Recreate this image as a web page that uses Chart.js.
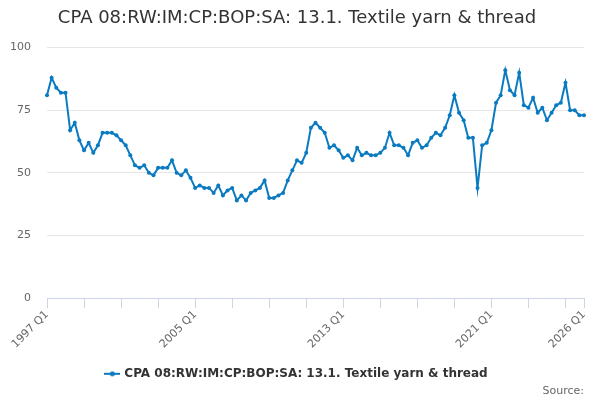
<!DOCTYPE html>
<html>
<head>
<meta charset="utf-8">
<title>Textile yarn & thread</title>
<script src="https://cdn.jsdelivr.net/npm/chart.js@4/dist/chart.umd.min.js"></script>
<style>
  html, body { margin: 0; padding: 0; background: #fff; }
  #wrap { position: relative; width: 600px; height: 400px; }
</style>
</head>
<body>
<div id="wrap"><canvas id="TextileChart" width="600" height="400"></canvas></div>
<script>
const startYear = 1997;
const quarterCount = 117; // 1997 Q1 .. 2026 Q1

const seriesName = "CPA 08:RW:IM:CP:BOP:SA: 13.1. Textile yarn & thread";

const textileValues = [
  81, 88, 84, 82, 82, 67, 70, 63, 59, 62, 58, 61, 66, 66, 66, 65, 63, 61, 57, 53,
  52, 53, 50, 49, 52, 52, 52, 55, 50, 49, 51, 48, 44, 45, 44, 44, 42, 45, 41, 43,
  44, 39, 41, 39, 42, 43, 44, 47, 40, 40, 41, 42, 47, 51, 55, 54, 58, 68, 70, 68,
  66, 60, 61, 59, 56, 57, 55, 60, 57, 58, 57, 57, 58, 60, 66, 61, 61, 60, 57, 62,
  63, 60, 61, 64, 66, 65, 68, 73, 81, 74, 71, 64, 64, 44, 61, 62, 67, 78, 81, 91,
  83, 81, 90, 77, 76, 80, 74, 76, 71, 74, 77, 78, 86, 75, 75, 73, 73
];

const yTicks = [0, 25, 50, 75, 100];
const labelledTicks = ["1997 Q1", "2005 Q1", "2013 Q1", "2021 Q1", "2026 Q1"];

const quarterLabels = [];
for (let i = 0; i < quarterCount; i++) {
  quarterLabels.push(`${startYear + Math.floor(i / 4)} Q${(i % 4) + 1}`);
}

const lineColor = "#0b7bc1";

// legend symbol: short line with a dot in the middle
function makeLegendSymbol() {
  const c = document.createElement("canvas");
  c.width = 16;
  c.height = 8;
  const g = c.getContext("2d");
  g.strokeStyle = lineColor;
  g.lineWidth = 2;
  g.beginPath();
  g.moveTo(0, 4);
  g.lineTo(16, 4);
  g.stroke();
  g.fillStyle = lineColor;
  g.beginPath();
  g.arc(8, 4, 2.5, 0, Math.PI * 2);
  g.fill();
  return c;
}

function isMajorTick(i) {
  return i % 8 === 0 || i === quarterCount - 1;
}

function initTextileChart() {
  const ctxElement = document.getElementById("TextileChart");
  if (!ctxElement) return console.error("TextileChart canvas not found");

  new Chart(ctxElement.getContext("2d"), {
    type: "line",
    data: {
      labels: quarterLabels,
      datasets: [{
        label: seriesName,
        data: textileValues,
        borderColor: lineColor,
        backgroundColor: lineColor,
        borderWidth: 2,
        pointRadius: 2,
        pointBorderWidth: 0,
        pointBackgroundColor: lineColor,
        tension: 0,
        fill: false
      }]
    },
    options: {
      responsive: false,
      animation: false,
      layout: { padding: { left: 10, right: 16, top: 4, bottom: 0 } },
      scales: {
        x: {
          type: "category",
          offset: false,
          afterFit: scale => {
            // rotated labels may hang past the plot edges, like the original
            scale.paddingLeft = 0;
            scale.paddingRight = 0;
            scale.height += 7;
          },
          grid: {
            drawOnChartArea: false,
            drawTicks: true,
            tickLength: 10,
            tickWidth: 1,
            color: ctx => isMajorTick(ctx.index) ? "#ccd6eb" : "rgba(0,0,0,0)"
          },
          border: { display: true, color: "#ccd6eb", width: 1 },
          ticks: {
            autoSkip: false,
            maxRotation: 45,
            minRotation: 45,
            padding: 0,
            color: "#666666",
            font: { family: "DejaVu Sans", size: 11 },
            callback: function (value, index) {
              const lbl = quarterLabels[index];
              return labelledTicks.includes(lbl) ? lbl : "";
            }
          }
        },
        y: {
          min: 0,
          max: 100,
          afterBuildTicks: scale => { scale.ticks = yTicks.map(v => ({ value: v })); },
          afterFit: scale => { scale.width = 37; },
          grid: { color: "#e6e6e6", drawTicks: false },
          border: { display: false },
          ticks: {
            padding: 16,
            color: "#666666",
            font: { family: "DejaVu Sans", size: 11 }
          }
        }
      },
      plugins: {
        title: {
          display: true,
          text: seriesName,
          color: "#333333",
          font: { family: "DejaVu Sans", size: 18, weight: "normal" },
          padding: { top: 4, bottom: 18 }
        },
        subtitle: {
          display: true,
          text: "Source:",
          position: "bottom",
          align: "end",
          color: "#666666",
          font: { family: "DejaVu Sans", size: 11, weight: "normal" },
          padding: { top: -5, bottom: 2 }
        },
        legend: {
          position: "bottom",
          labels: {
            usePointStyle: true,
            pointStyle: makeLegendSymbol(),
            color: "#333333",
            font: { family: "DejaVu Sans", size: 12, weight: "bold" },
            padding: 10
          }
        },
        tooltip: { enabled: false }
      }
    }
  });
}

document.addEventListener("DOMContentLoaded", () => {
  initTextileChart();
});
</script>
</body>
</html>
